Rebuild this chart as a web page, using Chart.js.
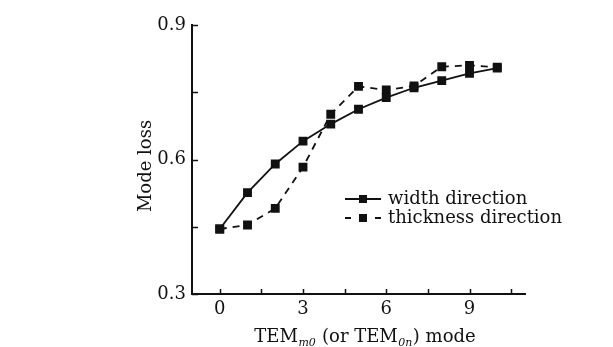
<!DOCTYPE html>
<html>
<head>
<meta charset="utf-8">
<script src="https://cdn.jsdelivr.net/npm/chart.js@4.4.1/dist/chart.umd.min.js"></script>
<style>
  html, body { margin: 0; padding: 0; background: #fff; }
  #wrap { width: 613px; height: 347px; }
</style>
</head>
<body>
<div id="wrap"><canvas id="chart" width="613" height="347"></canvas></div>
<script>
// mode index (TEM_m0 / TEM_0n)
const modes = [0, 1, 2, 3, 4, 5, 6, 7, 8, 9, 10];
const widthLoss = [0.445, 0.526, 0.590, 0.641, 0.679, 0.712, 0.738, 0.760, 0.776, 0.792, 0.804];
const thicknessLoss = [0.445, 0.454, 0.491, 0.583, 0.701, 0.763, 0.755, 0.764, 0.807, 0.810, 0.806];
const xTicks = [0, 1.5, 3, 4.5, 6, 7.5, 9, 10.5];
const yTicks = [0.3, 0.45, 0.6, 0.75, 0.9];
const seriesNames = ['width direction', 'thickness direction'];

const FONT = '"DejaVu Serif", serif';
const INK = '#111';

// inward tick marks, axis titles (with subscripts) and the legend
const decorations = {
  id: 'decorations',
  afterDraw(chart) {
    const { ctx, scales: { x, y }, chartArea } = chart;
    ctx.save();
    ctx.strokeStyle = INK;
    ctx.lineWidth = 1.5;
    ctx.beginPath();
    xTicks.forEach(v => {
      const px = Math.round(x.getPixelForValue(v)) + 0.5;
      ctx.moveTo(px, chartArea.bottom);
      ctx.lineTo(px, chartArea.bottom - 5);
    });
    yTicks.forEach(v => {
      const py = Math.round(y.getPixelForValue(v)) + 0.5;
      ctx.moveTo(chartArea.left, py);
      ctx.lineTo(chartArea.left + 6, py);
    });
    ctx.stroke();

    ctx.fillStyle = INK;
    // y title
    ctx.save();
    ctx.translate(146, 166);
    ctx.rotate(-Math.PI / 2);
    ctx.font = '18px ' + FONT;
    ctx.textAlign = 'center';
    ctx.textBaseline = 'middle';
    ctx.fillText('Mode loss', 0, 0);
    ctx.restore();

    // x title: TEM_m0 (or TEM_0n) mode
    const parts = [
      ['TEM', false], ['m0', true], [' (or TEM', false], ['0n', true], [') mode', false]
    ];
    const mainFont = '18px ' + FONT;
    const subFont = 'italic 11px ' + FONT;
    let total = 0;
    parts.forEach(([t, sub]) => {
      ctx.font = sub ? subFont : mainFont;
      total += ctx.measureText(t).width + (sub ? 1 : 0);
    });
    let cx = 365 - total / 2;
    const base = 342;
    ctx.textAlign = 'left';
    ctx.textBaseline = 'alphabetic';
    parts.forEach(([t, sub]) => {
      ctx.font = sub ? subFont : mainFont;
      ctx.fillText(t, cx + (sub ? 0.5 : 0), sub ? base + 4 : base);
      cx += ctx.measureText(t).width + (sub ? 1 : 0);
    });

    // legend
    const rows = [
      { label: seriesNames[0], y: 199, dash: [] },
      { label: seriesNames[1], y: 218, dash: [6, 24] }
    ];
    rows.forEach(r => {
      ctx.lineWidth = 1.8;
      ctx.setLineDash(r.dash);
      ctx.beginPath();
      ctx.moveTo(345, r.y);
      ctx.lineTo(381, r.y);
      ctx.stroke();
      ctx.setLineDash([]);
      ctx.fillRect(359, r.y - 4, 8, 8);
      ctx.font = '18px ' + FONT;
      ctx.textBaseline = 'middle';
      ctx.fillText(r.label, 388, r.y);
    });
    ctx.restore();
  }
};

new Chart(document.getElementById('chart').getContext('2d'), {
  type: 'line',
  data: {
    labels: modes,
    datasets: [
      {
        label: seriesNames[0],
        data: modes.map((m, i) => ({ x: m, y: widthLoss[i] })),
        borderColor: INK,
        backgroundColor: INK,
        borderWidth: 1.8,
        pointStyle: 'rect',
        pointRadius: 5,
        tension: 0
      },
      {
        label: seriesNames[1],
        data: modes.map((m, i) => ({ x: m, y: thicknessLoss[i] })),
        borderColor: INK,
        backgroundColor: INK,
        borderWidth: 1.8,
        borderDash: [7, 6],
        pointStyle: 'rect',
        pointRadius: 5,
        tension: 0
      }
    ]
  },
  options: {
    responsive: false,
    animation: false,
    layout: { padding: { top: 25, right: 88, left: 0, bottom: 0 } },
    plugins: { legend: { display: false }, tooltip: { enabled: false } },
    scales: {
      x: {
        type: 'linear',
        min: -1,
        max: 11,
        afterBuildTicks: s => { s.ticks = xTicks.map(v => ({ value: v })); },
        afterFit: s => { s.height = 53; },
        grid: { display: true, drawOnChartArea: false, drawTicks: false },
        border: { display: true, color: INK, width: 2 },
        ticks: {
          color: INK,
          font: { family: FONT, size: 18 },
          padding: 5,
          maxRotation: 0,
          autoSkip: false,
          callback: v => (v % 3 === 0 ? String(v) : '')
        }
      },
      y: {
        min: 0.3,
        max: 0.9,
        afterBuildTicks: s => { s.ticks = yTicks.map(v => ({ value: v })); },
        afterFit: s => { s.width = 192; },
        grid: { display: true, drawOnChartArea: false, drawTicks: false },
        border: { display: true, color: INK, width: 2 },
        ticks: {
          color: INK,
          font: { family: FONT, size: 18 },
          padding: 6,
          autoSkip: false,
          callback: v => (Math.abs(v * 10 - Math.round(v * 10)) < 1e-6 && Math.round(v * 10) % 3 === 0 ? v.toFixed(1) : '')
        }
      }
    }
  },
  plugins: [decorations]
});
</script>
</body>
</html>
